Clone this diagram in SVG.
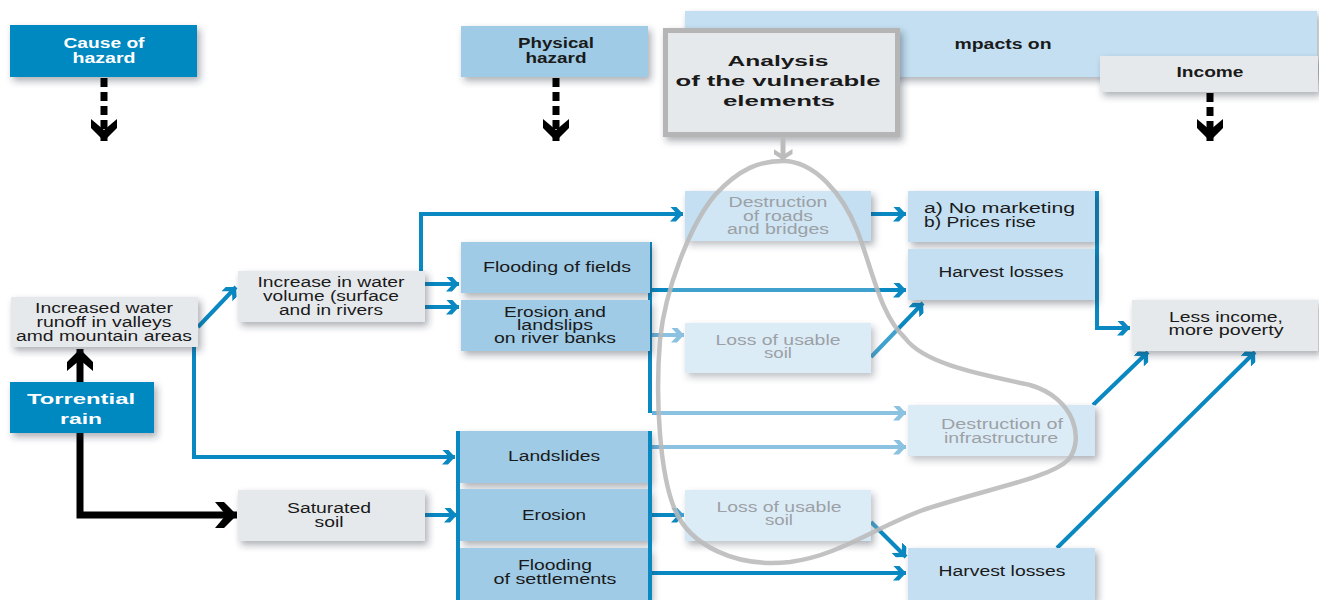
<svg xmlns="http://www.w3.org/2000/svg" width="1319" height="600" viewBox="0 0 1319 600">
<style>
.t{font-family:"Liberation Sans",Arial,sans-serif;font-size:14px;fill:#1a1a1a;text-anchor:middle}
.b{font-weight:bold}
.w{fill:#ffffff}
.g{fill:#80868c}
.dk{fill:#0088c0}
.md{fill:#9fcbe6}
.lt{fill:#c3dff1}
.fd{fill:#d3e7f5}
.gr{fill:#e6e9ec}
.bx{filter:url(#sh)}
.ln{fill:none;stroke:#0a88c1;stroke-width:4}
.lnl{fill:none;stroke:#6cb1d9;stroke-width:4}
.blk{fill:none;stroke:#000;stroke-width:7}
.dash{fill:none;stroke:#000;stroke-width:7;stroke-dasharray:9 5}
</style>
<defs>
<filter id="sh" x="-10%" y="-15%" width="130%" height="150%">
<feDropShadow dx="3" dy="4" stdDeviation="3.5" flood-color="#2a3440" flood-opacity="0.38"/>
</filter>
<marker id="ab" markerUnits="userSpaceOnUse" markerWidth="13" markerHeight="15" viewBox="0 0 13 15" refX="13" refY="7.5" orient="auto">
<polygon points="0,0 6,0 13,7.5 6,15 0,15 7,7.5" fill="#0a88c1"/>
</marker>
<marker id="al" markerUnits="userSpaceOnUse" markerWidth="13" markerHeight="15" viewBox="0 0 13 15" refX="13" refY="7.5" orient="auto">
<polygon points="0,0 6,0 13,7.5 6,15 0,15 7,7.5" fill="#6cb1d9"/>
</marker>
<marker id="bh" markerUnits="userSpaceOnUse" markerWidth="22" markerHeight="26" viewBox="0 0 22 26" refX="22" refY="13" orient="auto">
<polygon points="0,0 9,0 22,13 9,26 0,26 11,13" fill="#000"/>
</marker>
<marker id="gh" markerUnits="userSpaceOnUse" markerWidth="11" markerHeight="19" viewBox="0 0 11 19" refX="11" refY="9.5" orient="auto">
<polygon points="0,0 5,0 11,9.5 5,19 0,19 6,9.5" fill="#bcbcbc"/>
</marker>
</defs>
<rect width="1319" height="600" fill="#fff"/>

<g id="impacts-on">
<rect class="lt bx" x="685" y="11" width="632" height="66"/>
<text class="t b" x="1003" y="49" font-size="15" textLength="97" lengthAdjust="spacingAndGlyphs">mpacts on</text>
</g>
<g id="cause-of-hazard">
<rect class="dk bx" x="10" y="25" width="187" height="52"/>
<text class="t b w" x="104" y="48" font-size="16" textLength="81" lengthAdjust="spacingAndGlyphs">Cause of</text>
<text class="t b w" x="104" y="63" font-size="16" textLength="63" lengthAdjust="spacingAndGlyphs">hazard</text>
</g>
<g id="physical-hazard">
<rect class="md bx" x="461" y="26" width="187" height="51"/>
<text class="t b" x="556" y="48" font-size="16" textLength="76" lengthAdjust="spacingAndGlyphs">Physical</text>
<text class="t b" x="556" y="63" font-size="16" textLength="61" lengthAdjust="spacingAndGlyphs">hazard</text>
</g>
<g id="analysis">
<rect class="gr bx" x="665.5" y="30.5" width="232" height="104" stroke="#b5b5b5" stroke-width="5"/>
<text class="t b" x="778" y="66" font-size="19" textLength="101" lengthAdjust="spacingAndGlyphs">Analysis</text>
<text class="t b" x="778" y="86" font-size="19" textLength="205" lengthAdjust="spacingAndGlyphs">of the vulnerable</text>
<text class="t b" x="779" y="106" font-size="19" textLength="112" lengthAdjust="spacingAndGlyphs">elements</text>
</g>
<g id="income">
<rect class="gr bx" x="1100" y="56" width="218" height="36"/>
<text class="t b" x="1210" y="77" font-size="15" textLength="67" lengthAdjust="spacingAndGlyphs">Income</text>
</g>

<g id="connectors">
<path class="dash" d="M104,78 V141" marker-end="url(#bh)"/>
<path class="dash" d="M556,78 V141" marker-end="url(#bh)"/>
<path class="dash" d="M1210,93 V141" marker-end="url(#bh)"/>
<path class="blk" d="M80,382 V349" marker-end="url(#bh)"/>
<path class="blk" d="M80,433 V515 H237" marker-end="url(#bh)"/>
<path class="ln" d="M198,327 L236,287" marker-end="url(#ab)"/>
<path class="ln" d="M194,347 V457 H455" marker-end="url(#ab)"/>
<path class="ln" d="M425,284 H459" marker-end="url(#ab)"/>
<path class="ln" d="M425,307 H459" marker-end="url(#ab)"/>
<path class="ln" d="M421,271 V214 H683" marker-end="url(#ab)"/>
<path class="ln" d="M871,214 H906" marker-end="url(#ab)"/>
<path class="ln" d="M650,290 H906" marker-end="url(#ab)"/>
<path class="lnl" d="M650,335 H684" marker-end="url(#al)"/>
<path class="ln" d="M650,242 V413"/>
<path class="lnl" d="M652,413 H906" marker-end="url(#al)"/>
<path class="lnl" d="M652,447 H906" marker-end="url(#al)"/>
<path class="ln" d="M871,357 L923,303" marker-end="url(#ab)"/>
<path class="ln" d="M1097,191 V328 H1130" marker-end="url(#ab)"/>
<path class="ln" d="M1093,405 L1148,352" marker-end="url(#ab)"/>
<path class="ln" d="M1057,548 L1255,352" marker-end="url(#ab)"/>
<path class="ln" d="M425,515 H457" marker-end="url(#ab)"/>
<path class="ln" d="M650,515 H684" marker-end="url(#ab)"/>
<path class="ln" d="M871,522 L906,557" marker-end="url(#ab)"/>
<path class="ln" d="M650,573 H906" marker-end="url(#ab)"/>
</g>

<g id="runoff">
<rect class="gr bx" x="11" y="297" width="187" height="50"/>
<text class="t" x="104" y="313" textLength="138" lengthAdjust="spacingAndGlyphs">Increased water</text>
<text class="t" x="104" y="327" textLength="135" lengthAdjust="spacingAndGlyphs">runoff in valleys</text>
<text class="t" x="104" y="341" textLength="176" lengthAdjust="spacingAndGlyphs">amd mountain areas</text>
</g>
<g id="torrential-rain">
<rect class="dk bx" x="10" y="382" width="144" height="51"/>
<text class="t b w" x="81" y="404" font-size="18" textLength="108" lengthAdjust="spacingAndGlyphs">Torrential</text>
<text class="t b w" x="81" y="424" font-size="18" textLength="42" lengthAdjust="spacingAndGlyphs">rain</text>
</g>
<g id="water-volume">
<rect class="gr bx" x="238" y="271" width="187" height="51"/>
<text class="t" x="331" y="287" textLength="147" lengthAdjust="spacingAndGlyphs">Increase in water</text>
<text class="t" x="331" y="301" textLength="136" lengthAdjust="spacingAndGlyphs">volume (surface</text>
<text class="t" x="331" y="315" textLength="104" lengthAdjust="spacingAndGlyphs">and in rivers</text>
</g>
<g id="saturated-soil">
<rect class="gr bx" x="238" y="490" width="187" height="51"/>
<text class="t" x="329" y="513" textLength="84" lengthAdjust="spacingAndGlyphs">Saturated</text>
<text class="t" x="329" y="527" textLength="29" lengthAdjust="spacingAndGlyphs">soil</text>
</g>
<g id="flooding-fields">
<rect class="md bx" x="461" y="242" width="189" height="51"/>
<text class="t" x="557" y="272" textLength="148" lengthAdjust="spacingAndGlyphs">Flooding of fields</text>
</g>
<g id="erosion-landslips">
<rect class="md bx" x="461" y="300" width="189" height="51"/>
<text class="t" x="555" y="317" textLength="102" lengthAdjust="spacingAndGlyphs">Erosion and</text>
<text class="t" x="555" y="330" textLength="76" lengthAdjust="spacingAndGlyphs">landslips</text>
<text class="t" x="555" y="343" textLength="122" lengthAdjust="spacingAndGlyphs">on river banks</text>
</g>
<g id="landslides">
<rect class="md bx" x="460" y="431" width="190" height="52"/>
<text class="t" x="554" y="461" textLength="92" lengthAdjust="spacingAndGlyphs">Landslides</text>
</g>
<g id="erosion">
<rect class="md bx" x="460" y="489" width="190" height="52"/>
<text class="t" x="554" y="520" textLength="64" lengthAdjust="spacingAndGlyphs">Erosion</text>
</g>
<g id="flooding-settlements">
<rect class="md bx" x="460" y="548" width="190" height="52"/>
<text class="t" x="555" y="570" textLength="74" lengthAdjust="spacingAndGlyphs">Flooding</text>
<text class="t" x="555" y="584" textLength="123" lengthAdjust="spacingAndGlyphs">of settlements</text>
</g>
<g id="group-frame">
<path class="ln" d="M458,431 V600 M650,431 V600"/>
</g>
<g id="destruction-roads">
<rect class="lt bx" x="685" y="191" width="186" height="50"/>
<text class="t g" x="778" y="207" textLength="99" lengthAdjust="spacingAndGlyphs">Destruction</text>
<text class="t g" x="778" y="221" textLength="70" lengthAdjust="spacingAndGlyphs">of roads</text>
<text class="t g" x="778" y="234" textLength="102" lengthAdjust="spacingAndGlyphs">and bridges</text>
</g>
<g id="loss-soil-upper">
<rect class="fd bx" x="685" y="323" width="186" height="50"/>
<text class="t g" x="778" y="345" textLength="125" lengthAdjust="spacingAndGlyphs">Loss of usable</text>
<text class="t g" x="778" y="358" textLength="28" lengthAdjust="spacingAndGlyphs">soil</text>
</g>
<g id="loss-soil-lower">
<rect class="fd bx" x="685" y="490" width="186" height="51"/>
<text class="t g" x="779" y="512" textLength="125" lengthAdjust="spacingAndGlyphs">Loss of usable</text>
<text class="t g" x="779" y="525" textLength="28" lengthAdjust="spacingAndGlyphs">soil</text>
</g>
<g id="no-marketing">
<rect class="lt bx" x="908" y="191" width="187" height="51"/>
<text class="t" x="924" y="213" style="text-anchor:start" textLength="151" lengthAdjust="spacingAndGlyphs">a) No marketing</text>
<text class="t" x="924" y="227" style="text-anchor:start" textLength="112" lengthAdjust="spacingAndGlyphs">b) Prices rise</text>
</g>
<g id="harvest-upper">
<rect class="lt bx" x="908" y="249" width="187" height="51"/>
<text class="t" x="1001" y="277" textLength="125" lengthAdjust="spacingAndGlyphs">Harvest losses</text>
</g>
<g id="destruction-infrastructure">
<rect class="fd bx" x="908" y="405" width="187" height="51"/>
<text class="t g" x="1002" y="429" textLength="122" lengthAdjust="spacingAndGlyphs">Destruction of</text>
<text class="t g" x="1001" y="443" textLength="114" lengthAdjust="spacingAndGlyphs">infrastructure</text>
</g>
<g id="harvest-lower">
<rect class="lt bx" x="908" y="548" width="187" height="52"/>
<text class="t" x="1002" y="576" textLength="127" lengthAdjust="spacingAndGlyphs">Harvest losses</text>
</g>
<g id="less-income">
<rect class="gr bx" x="1132" y="300" width="186" height="51"/>
<text class="t" x="1226" y="322" textLength="114" lengthAdjust="spacingAndGlyphs">Less income,</text>
<text class="t" x="1226" y="335" textLength="115" lengthAdjust="spacingAndGlyphs">more poverty</text>
</g>

<g id="vulnerable-outline">
<path d="M783,161 C815,161 843,195 857,230 C872,268 880,315 905,338 C925,365 985,375 1030,385 C1075,398 1085,440 1068,460 C1050,478 990,488 923,510 C870,530 840,555 790,562 C735,568 690,545 675,510 C660,475 655,400 660,340 C665,290 690,225 715,195 C740,168 760,161 783,161 Z" fill="#ffffff" fill-opacity="0.22" stroke="#b9b9b9" stroke-opacity="0.88" stroke-width="4.5"/>
<path d="M783,137 V160" fill="none" stroke="#bcbcbc" stroke-width="5" marker-end="url(#gh)"/>
</g>
</svg>
